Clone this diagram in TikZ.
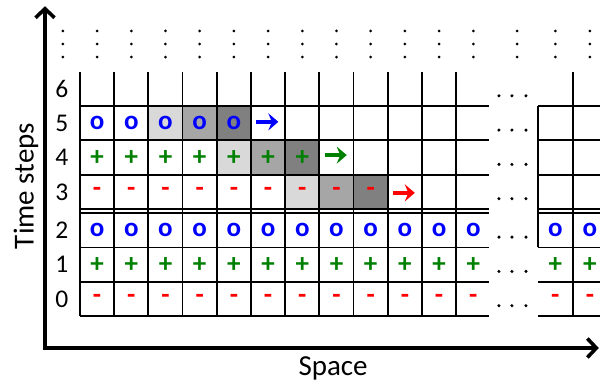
\documentclass[tikz,border=0pt]{standalone}
\usepackage{fontspec}
\setmainfont{Carlito}
\usepackage{tikz}
\usetikzlibrary{arrows.meta}
\definecolor{symblue}{RGB}{0,0,255}
\definecolor{symgreen}{RGB}{0,128,0}
\definecolor{symred}{RGB}{255,0,0}
\definecolor{shlight}{RGB}{217,217,217}
\definecolor{shmid}{RGB}{166,166,166}
\definecolor{shdark}{RGB}{128,128,128}
\tikzset{
  gridline/.style={line width=1.8pt, color=black},
  axis/.style={line width=3.6pt, color=black, line join=miter,
    {Straight Barb[length=9pt,width=19pt]}-{Straight Barb[length=9pt,width=19pt]}},
  rowlabel/.style={font=\fontsize{25.5}{25.5}\selectfont, inner sep=0pt},
  axislabel/.style={font=\fontsize{29}{29}\selectfont, inner sep=0pt},
  osym/.style={font=\fontsize{27}{27}\selectfont\bfseries, text=symblue, inner sep=0pt},
  psym/.style={font=\fontsize{27}{27}\selectfont\bfseries, text=symgreen, inner sep=0pt},
  msym/.style={font=\fontsize{27}{27}\selectfont\bfseries, text=symred, inner sep=0pt},
  move/.style={line width=4.5pt, -{Stealth[length=10pt,width=17pt,inset=3.5pt]}},
  dot/.style={circle, fill=black, inner sep=0pt, minimum size=3pt}
}

\begin{document}
\begin{tikzpicture}[x=34.2pt, y=34.3pt]
  \useasboundingbox (-2.339,-1.953) rectangle (15.205,9.213);

  % Shading
  \fill[shlight] (2,5.12) rectangle (3,6.12);
  \fill[shmid]   (3,5.12) rectangle (4,6.12);
  \fill[shdark]  (4,5.12) rectangle (5,6.12);
  \fill[shlight] (4,4.12) rectangle (5,5.12);
  \fill[shmid]   (5,4.12) rectangle (6,5.12);
  \fill[shdark]  (6,4.12) rectangle (7,5.12);
  \fill[shlight] (6,3.12) rectangle (7,4.12);
  \fill[shmid]   (7,3.12) rectangle (8,4.12);
  \fill[shdark]  (8,3.12) rectangle (9,4.12);

  % Grid
  \foreach \x in {0,...,11}
    \draw[gridline] (\x,0) -- (\x,7.12);
  \foreach \y in {0,1,2,3,3.12,4.12,5.12,6.12} {
    \draw[gridline] (0,\y) -- (11.95,\y);
    \draw[gridline] (13.39,\y) -- (15.3,\y);
  }
  \draw[gridline] (13.39,2) -- (13.39,6.12);
  \draw[gridline] (14.42,0) -- (14.42,7.12);

  % Axes
  \coordinate (origin) at (-1.023,-0.933);
  \coordinate (ytip) at (-1.023,9.03);
  \coordinate (xtip) at (15.17,-0.933);
  \draw[axis] (ytip) -- (origin) -- (xtip);
  \node[axislabel, rotate=90] (time) at (-1.58,3.79) {Time steps};
  \node[axislabel] (space) at (7.4,-1.52) {Space};

  % Row labels
  \foreach \r/\y in {0/0.5, 1/1.5, 2/2.5, 3/3.62, 4/4.62, 5/5.62, 6/6.62}
    \node[rowlabel] (lab\r) at (-0.53,\y) {\r};

  % Symbols
  \foreach \x in {0,...,11} {
    \node[msym] (m0-\x) at (\x+0.5,0.5) {-};
    \node[psym] (p1-\x) at (\x+0.5,1.5) {+};
    \node[osym] (o2-\x) at (\x+0.5,2.5) {o};
  }
  \foreach \x/\n in {13.90/a, 14.91/b} {
    \node[msym] (m0-\n) at (\x,0.5) {-};
    \node[psym] (p1-\n) at (\x,1.5) {+};
    \node[osym] (o2-\n) at (\x,2.5) {o};
  }
  \foreach \x in {0,...,8}
    \node[msym] (m3-\x) at (\x+0.5,3.62) {-};
  \foreach \x in {0,...,6}
    \node[psym] (p4-\x) at (\x+0.5,4.62) {+};
  \foreach \x in {0,...,4}
    \node[osym] (o5-\x) at (\x+0.5,5.62) {o};

  % Moves
  \coordinate (bfrom) at (5.15,5.66);
  \coordinate (bto) at (5.80,5.66);
  \coordinate (gfrom) at (7.16,4.69);
  \coordinate (gto) at (7.80,4.69);
  \coordinate (rfrom) at (9.15,3.59);
  \coordinate (rto) at (9.79,3.59);
  \draw[move, symblue] (bfrom) -- (bto);
  \draw[move, symgreen] (gfrom) -- (gto);
  \draw[move, symred] (rfrom) -- (rto);

  % Dots
  \foreach \x [count=\i] in {-0.5,0.5,1.5,2.5,3.5,4.5,5.5,6.5,7.5,8.5,9.5,10.5,11.5,12.78,13.90,14.91}
    \foreach \y [count=\j] in {7.55,7.93,8.31}
      \node[dot] (vd\i-\j) at (\x,\y) {};
  \foreach \y [count=\i] in {0.5,1.5,2.5,3.62,4.62,5.62,6.62}
    \foreach \x [count=\j] in {12.25,12.63,13.04}
      \node[dot, minimum size=3.4pt] (hd\i-\j) at (\x,\y-0.2) {};

\end{tikzpicture}
\end{document}
